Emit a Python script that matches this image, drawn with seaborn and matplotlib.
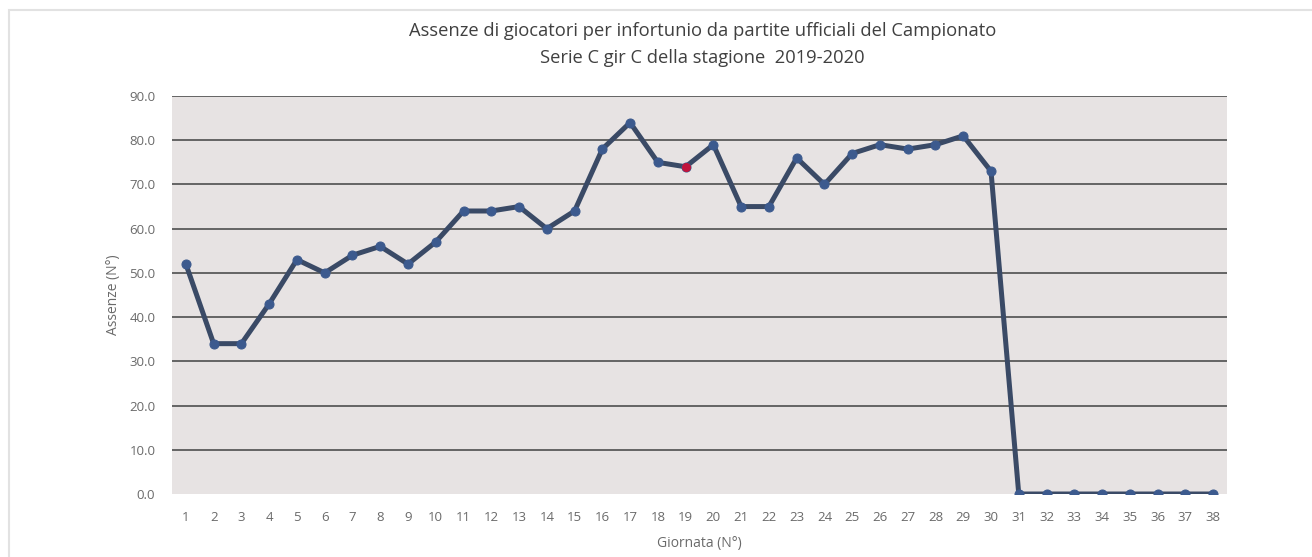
import matplotlib
matplotlib.use("Agg")
import matplotlib.pyplot as plt
import matplotlib.patches as mpatches
import seaborn as sns
import pandas as pd

# Injury absences per matchday, Serie C girone C 2019-2020
giornate = list(range(1, 39))
assenze = [52, 34, 34, 43, 53, 50, 54, 56, 52, 57,
           64, 64, 65, 60, 64, 78, 84, 75, 74, 79,
           65, 65, 76, 70, 77, 79, 78, 79, 81, 73,
           0, 0, 0, 0, 0, 0, 0, 0]
evidenziata = 19  # matchday drawn with a red marker

y_ticks = [0, 10, 20, 30, 40, 50, 60, 70, 80, 90]

df = pd.DataFrame({"Giornata": giornate, "Assenze": assenze})

sns.set_theme(style="white")
plt.rcParams["font.family"] = ["Open Sans", "DejaVu Sans"]

text_col = "#6A6A6A"
fig = plt.figure(figsize=(13.12, 5.57), dpi=100)
ax = fig.add_axes([0.1311, 0.1131, 0.8041, 0.7145])
ax.set_facecolor("#E7E3E3")

# thin outer frame of the chart area
fig.patches.append(mpatches.Rectangle((9 / 1312, -0.05), 1.2, 1 - 10 / 557 + 0.05,
                                      transform=fig.transFigure, fill=False,
                                      edgecolor="#E2E2E2", linewidth=1.5))

sns.lineplot(data=df, x="Giornata", y="Assenze", ax=ax, color="#3A4A66",
             linewidth=3.6, marker="o", markersize=6.5,
             markerfacecolor="#3C5A8E", markeredgecolor="#3C5A8E", zorder=3)
idx = giornate.index(evidenziata)
ax.plot([giornate[idx]], [assenze[idx]], "o", color="#C0143C", markersize=5.5, zorder=4)

ax.set_xlim(0.5, 38.5)
ax.set_ylim(0, 90)
ax.set_yticks(y_ticks)
ax.set_yticklabels([f"{v:.1f}" for v in y_ticks])
ax.set_xticks(giornate)
ax.set_xticklabels([str(g) for g in giornate])

for v in y_ticks[1:]:
    ax.axhline(v, color="#5A5A5A", linewidth=1.3, zorder=1)

for s in ax.spines.values():
    s.set_visible(False)
ax.tick_params(axis="x", length=0, labelsize=9.5, colors=text_col, pad=12)
ax.tick_params(axis="y", length=0, labelsize=9.5, colors=text_col, pad=12)

ax.set_xlabel("Giornata (N°)", fontsize=10, color=text_col, labelpad=9)
ax.set_ylabel("Assenze (N°)", fontsize=10, color=text_col, labelpad=6)

fig.text(0.5355, 0.945, "Assenze di giocatori per infortunio da partite ufficiali del Campionato",
         ha="center", va="center", fontsize=13.2, color="#404040")
fig.text(0.5355, 0.895, "Serie C gir C della stagione  2019-2020",
         ha="center", va="center", fontsize=13.2, color="#404040")

fig.savefig("out.png", dpi=100)
